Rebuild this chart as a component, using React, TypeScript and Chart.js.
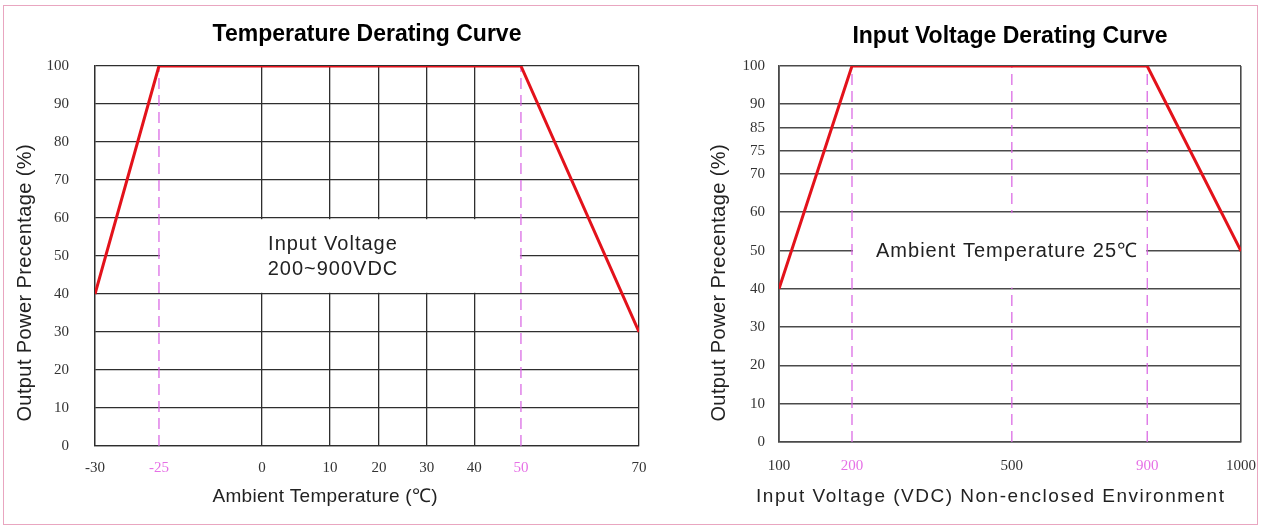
import React, { useEffect, useRef } from 'react';
import { Chart, registerables, LinearScale } from 'chart.js';

Chart.register(...registerables);

// ---------------- Data ----------------
// Temperature derating
const tempTicks = [-30, -25, 0, 10, 20, 30, 40, 50, 70];
const tempCurveX = [-30, -25, 50, 70];
const tempCurveY = [40, 100, 100, 30];
const tempMarkers = [-25, 50];
const tempHighlightLabels = [-25, 50];
const tempPowerMin = 0;
const tempPowerMax = 100;
const tempPowerStep = 10;
const tempNoteLines = ['Input Voltage', '200~900VDC'];
const tempNoteRangeX = [-25, 50];
const tempNoteRangeY = [40, 60];

// Input voltage derating
const voltTicks = [100, 200, 500, 900, 1000];
const voltCurveX = [100, 200, 900, 1000];
const voltCurveY = [40, 100, 100, 50];
const voltMarkers = [200, 500, 900];
const voltHighlightLabels = [200, 900];
const voltPowerTicks = [0, 10, 20, 30, 40, 50, 60, 70, 75, 85, 90, 100];
const voltNoteLines = ['Ambient Temperature 25\u2103'];
const voltNoteRangeX = [200, 900];
const voltNoteRangeY = [40, 60];

const powerAxisTitle = 'Output Power Precentage (%)';
const tempTitle = 'Temperature Derating Curve';
const tempAxisTitle = 'Ambient Temperature (\u2103)';
const voltTitle = 'Input Voltage Derating Curve';
const voltAxisTitle = 'Input Voltage (VDC) Non-enclosed Environment';

// ---------------- Layout of the uneven axes (tick spacing in the original drawing) ----------------
const tempTickLayout = [0, 0.1176, 0.307, 0.432, 0.522, 0.61, 0.697, 0.783, 1];
const voltTickLayout = [0, 0.158, 0.504, 0.797, 1];
const voltPowerLayout = [0, 0.1019, 0.2037, 0.3056, 0.4074, 0.508, 0.612, 0.713, 0.774, 0.835, 0.899, 1];

function interp(v: number, from: number[], to: number[]) {
  const n = from.length - 1;
  let i = 1;
  while (i < n && v > from[i]) i++;
  const t = (v - from[i - 1]) / (from[i] - from[i - 1]);
  return to[i - 1] + t * (to[i] - to[i - 1]);
}

function makePiecewiseScale(id: string, values: number[], layout: number[]) {
  class PiecewiseScale extends (LinearScale as any) {
    static id = id;
    static defaults = {};
    buildTicks() {
      return values.map((value) => ({ value }));
    }
    getPixelForValue(value: number) {
      return (this as any).getPixelForDecimal(interp(value, values, layout));
    }
    getValueForPixel(pixel: number) {
      return interp((this as any).getDecimalForPixel(pixel), layout, values);
    }
  }
  return PiecewiseScale;
}

Chart.register(
  makePiecewiseScale('tempScale', tempTicks, tempTickLayout) as any,
  makePiecewiseScale('voltScale', voltTicks, voltTickLayout) as any,
  makePiecewiseScale('voltPowerScale', voltPowerTicks, voltPowerLayout) as any
);

const RED = '#e3121b';
const MAGENTA = 'rgb(216, 96, 226)';
const MAGENTA_TEXT = 'rgb(230, 112, 230)';
const SANS = '"Liberation Sans", Arial, sans-serif';
const SERIF = '"Liberation Serif", "Times New Roman", serif';

type TextCfg = { text: string; x: number; y: number; size: number; spacing: number };
type OverlayCfg = {
  noteLines: string[];
  noteX: number[];
  noteY: number[];
  noteTextX: number;
  lineGap: number;
  yTitle: TextCfg;
  xTitle: TextCfg;
};

function drawSpaced(ctx: any, text: string, x: number, y: number, spacing: number) {
  ctx.letterSpacing = `${spacing}px`;
  // compensate the trailing spacing so the text stays centred
  ctx.fillText(text, x + spacing / 2, y);
  ctx.letterSpacing = '0px';
}

function makeOverlay(cfg: OverlayCfg) {
  return {
    id: 'overlay',
    afterDatasetsDraw(chart: any) {
      const { ctx, scales } = chart;
      const x = scales.x;
      const y = scales.y;
      const x0 = x.getPixelForValue(cfg.noteX[0]) + 1;
      const x1 = x.getPixelForValue(cfg.noteX[1]) - 1;
      const yTop = y.getPixelForValue(cfg.noteY[1]) + 1.2;
      const yBot = y.getPixelForValue(cfg.noteY[0]) - 1.2;
      ctx.save();
      ctx.fillStyle = '#ffffff';
      ctx.fillRect(x0, yTop, x1 - x0, yBot - yTop);
      ctx.fillStyle = '#222';
      ctx.font = `20px ${SANS}`;
      ctx.textAlign = 'center';
      ctx.textBaseline = 'middle';
      const cx = x.getPixelForValue(cfg.noteTextX);
      const cy = (yTop + yBot) / 2 + 1;
      const n = cfg.noteLines.length;
      cfg.noteLines.forEach((line, i) => {
        drawSpaced(ctx, line, cx, cy + (i - (n - 1) / 2) * cfg.lineGap, 1);
      });
      ctx.restore();
    },
    afterDraw(chart: any) {
      const { ctx } = chart;
      ctx.save();
      ctx.fillStyle = '#222';
      ctx.textAlign = 'center';
      ctx.textBaseline = 'middle';
      ctx.font = `${cfg.xTitle.size}px ${SANS}`;
      drawSpaced(ctx, cfg.xTitle.text, cfg.xTitle.x, cfg.xTitle.y, cfg.xTitle.spacing);
      ctx.font = `${cfg.yTitle.size}px ${SANS}`;
      ctx.translate(cfg.yTitle.x, cfg.yTitle.y);
      ctx.rotate(-Math.PI / 2);
      drawSpaced(ctx, cfg.yTitle.text, 0, 0, cfg.yTitle.spacing);
      ctx.restore();
    },
  };
}

function markerDatasets(markers: number[], yMin: number, yMax: number) {
  return markers.map((m) => ({
    data: [
      { x: m, y: yMin },
      { x: m, y: yMax },
    ],
    borderColor: MAGENTA,
    borderWidth: 1.2,
    borderDash: [11, 6],
    pointRadius: 0,
    fill: false,
  }));
}

const zeroPadding = (s: any) => {
  s.paddingLeft = 0;
  s.paddingRight = 0;
};

function buildTempConfig(): any {
  const curve = tempCurveX.map((x, i) => ({ x, y: tempCurveY[i] }));
  return {
    type: 'line',
    data: {
      datasets: [
        { data: curve, borderColor: RED, borderWidth: 3, pointRadius: 0, fill: false, tension: 0 },
        ...markerDatasets(tempMarkers, tempPowerMin, tempPowerMax),
      ],
    },
    options: {
      animation: false,
      responsive: false,
      events: [],
      layout: { padding: { left: 0, right: 11, top: 0, bottom: 0 } },
      plugins: {
        legend: { display: false },
        tooltip: { enabled: false },
        title: {
          display: true,
          text: tempTitle,
          fullSize: false,
          color: '#000',
          font: { family: SANS, size: 23, weight: 'bold' },
          padding: { top: 21.2, bottom: 17.2 },
        },
      },
      scales: {
        x: {
          type: 'tempScale',
          min: tempTicks[0],
          max: tempTicks[tempTicks.length - 1],
          afterFit: (s: any) => {
            s.height = 85;
            zeroPadding(s);
          },
          grid: {
            color: (c: any) => (c.tick && tempMarkers.includes(c.tick.value) ? 'rgba(0,0,0,0)' : '#2e2e2e'),
            lineWidth: 1.3,
            drawTicks: false,
          },
          border: { color: '#2e2e2e', width: 1.3 },
          ticks: {
            autoSkip: false,
            maxRotation: 0,
            padding: 13,
            font: { family: SERIF, size: 15 },
            color: (c: any) => (c.tick && tempHighlightLabels.includes(c.tick.value) ? MAGENTA_TEXT : '#333'),
            callback: (v: any) => String(v),
          },
        },
        y: {
          type: 'linear',
          min: tempPowerMin,
          max: tempPowerMax,
          afterFit: (s: any) => {
            s.width = 95;
          },
          grid: { color: '#2e2e2e', lineWidth: 1.3, drawTicks: false },
          border: { color: '#2e2e2e', width: 1.3 },
          ticks: {
            stepSize: tempPowerStep,
            padding: 26,
            font: { family: SERIF, size: 15 },
            color: '#333',
          },
        },
      },
    },
    plugins: [
      makeOverlay({
        noteLines: tempNoteLines,
        noteX: tempNoteRangeX,
        noteY: tempNoteRangeY,
        noteTextX: 10.5,
        lineGap: 25,
        yTitle: { text: powerAxisTitle, x: 25, y: 283, size: 20, spacing: 0.4 },
        xTitle: { text: tempAxisTitle, x: 325, y: 497, size: 19, spacing: 0.3 },
      }),
    ],
  };
}

function buildVoltConfig(): any {
  const curve = voltCurveX.map((x, i) => ({ x, y: voltCurveY[i] }));
  const yMin = voltPowerTicks[0];
  const yMax = voltPowerTicks[voltPowerTicks.length - 1];
  return {
    type: 'line',
    data: {
      datasets: [
        { data: curve, borderColor: RED, borderWidth: 3, pointRadius: 0, fill: false, tension: 0 },
        ...markerDatasets(voltMarkers, yMin, yMax),
      ],
    },
    options: {
      animation: false,
      responsive: false,
      events: [],
      layout: { padding: { left: 0, right: 20, top: 0, bottom: 0 } },
      plugins: {
        legend: { display: false },
        tooltip: { enabled: false },
        title: {
          display: true,
          text: voltTitle,
          fullSize: false,
          color: '#000',
          font: { family: SANS, size: 23, weight: 'bold' },
          padding: { top: 23.2, bottom: 15.2 },
        },
      },
      scales: {
        x: {
          type: 'voltScale',
          min: voltTicks[0],
          max: voltTicks[voltTicks.length - 1],
          afterFit: (s: any) => {
            s.height = 89;
            zeroPadding(s);
          },
          grid: {
            color: (c: any) => (c.tick && voltMarkers.includes(c.tick.value) ? 'rgba(0,0,0,0)' : '#4a4a4a'),
            lineWidth: 1.6,
            drawTicks: false,
          },
          border: { color: '#4a4a4a', width: 1.6 },
          ticks: {
            autoSkip: false,
            maxRotation: 0,
            padding: 15,
            font: { family: SERIF, size: 15 },
            color: (c: any) => (c.tick && voltHighlightLabels.includes(c.tick.value) ? MAGENTA_TEXT : '#333'),
            callback: (v: any) => String(v),
          },
        },
        y: {
          type: 'voltPowerScale',
          min: yMin,
          max: yMax,
          afterFit: (s: any) => {
            s.width = 129;
          },
          grid: { color: '#4a4a4a', lineWidth: 1.6, drawTicks: false },
          border: { color: '#4a4a4a', width: 1.6 },
          ticks: {
            autoSkip: false,
            padding: 14,
            font: { family: SERIF, size: 15 },
            color: '#333',
            callback: (v: any) => String(v),
          },
        },
      },
    },
    plugins: [
      makeOverlay({
        noteLines: voltNoteLines,
        noteX: voltNoteRangeX,
        noteY: voltNoteRangeY,
        noteTextX: 490,
        lineGap: 25,
        yTitle: { text: powerAxisTitle, x: 69, y: 283, size: 20, spacing: 0.4 },
        xTitle: { text: voltAxisTitle, x: 340, y: 497, size: 19, spacing: 1.5 },
      }),
    ],
  };
}

function ChartCanvas({ build, width, height, left }: { build: () => any; width: number; height: number; left: number }) {
  const ref = useRef<HTMLCanvasElement | null>(null);
  useEffect(() => {
    if (!ref.current) return;
    const chart = new Chart(ref.current, build());
    return () => chart.destroy();
  }, [build]);
  return (
    <canvas
      ref={ref}
      width={width}
      height={height}
      style={{ position: 'absolute', left, top: 0, width, height, display: 'block' }}
    />
  );
}

export default function App() {
  return (
    <div style={{ position: 'absolute', left: 0, top: 0, width: 1261, height: 531, background: '#fff', overflow: 'hidden' }}>
      <ChartCanvas build={buildTempConfig} width={650} height={531} left={0} />
      <ChartCanvas build={buildVoltConfig} width={611} height={531} left={650} />
      <div
        style={{
          position: 'absolute',
          left: 3,
          top: 5,
          width: 1253,
          height: 518,
          border: '1px solid #e9a6c0',
          pointerEvents: 'none',
        }}
      />
    </div>
  );
}
